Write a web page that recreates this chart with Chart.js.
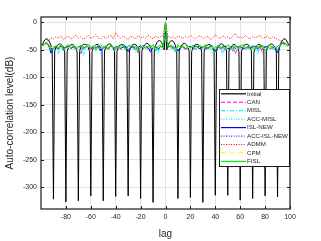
<!DOCTYPE html>
<html>
<head>
<meta charset="utf-8">
<script src="https://cdn.jsdelivr.net/npm/chart.js@4/dist/chart.umd.min.js"></script>
<style>
  body { margin: 0; background: #fff; }
  canvas { display: block; }
</style>
</head>
<body>
<canvas id="acfChart" width="321" height="241"></canvas>
<script>
const FONT = "'Liberation Sans', Arial, sans-serif";

const xTicks = [-80, -60, -40, -20, 0, 20, 40, 60, 80, 100];
const yTicks = [-300, -250, -200, -150, -100, -50, 0];

// lags -99..99 for the initial sequence
const lagsFine = [];
for (let k = -99; k <= 99; k++) lagsFine.push(k);
// lags -98..98 (step 2) for the optimised sequences
const lagsStep2 = [];
for (let k = -98; k <= 98; k += 2) lagsStep2.push(k);

const initialDb = [
  -42, -36, -32, -30, -30, -32, -36, -42, -52,
  -322, -52, -45, -42, -40, -39, -40, -42, -45, -53,
  -327, -53, -46, -42, -41, -40, -41, -43, -46, -54,
  -325, -52, -45, -42, -40, -40, -40, -42, -46, -53,
  -316, -53, -46, -43, -41, -40, -41, -43, -46, -52,
  -325, -52, -45, -42, -40, -39, -40, -42, -45, -53,
  -317, -53, -46, -42, -41, -40, -41, -42, -46, -52,
  -316, -52, -45, -42, -40, -40, -40, -43, -46, -53,
  -321, -52, -45, -41, -39, -38, -39, -41, -45, -52,
  -328, -50, -42, -37, -34, -33, -34, -37, -42, -50,
  0,
  -50, -42, -37, -34, -33, -34, -37, -42, -50, -321,
  -52, -45, -41, -39, -38, -39, -41, -45, -52, -319,
  -53, -46, -43, -40, -40, -40, -42, -45, -52, -328,
  -52, -46, -42, -41, -40, -41, -42, -46, -53, -315,
  -53, -45, -42, -40, -39, -40, -42, -45, -52, -315,
  -52, -46, -43, -41, -40, -41, -43, -46, -53, -324,
  -53, -46, -42, -40, -40, -40, -42, -45, -52, -321,
  -54, -46, -43, -41, -40, -41, -42, -46, -53, -316,
  -53, -45, -42, -40, -39, -40, -42, -45, -52, -318,
  -52, -42, -36, -32, -30, -30, -32, -36, -42
];

const canDb = [
  -42, -38, -41, -48, -45, -43, -47, -44, -50, -46,
  -44, -48, -43, -47, -45, -58, -44, -46, -43, -49,
  -45, -47, -44, -50, -43, -46, -48, -44, -47, -45,
  -43, -49, -46, -44, -48, -45, -43, -47, -55, -44,
  -46, -43, -48, -45, -47, -44, -49, -45, -43, 0,
  -44, -46, -43, -48, -45, -47, -44, -50, -46, -43,
  -48, -45, -44, -47, -43, -49, -46, -44, -48, -45,
  -47, -43, -50, -45, -44, -48, -46, -57, -45, -47,
  -44, -49, -46, -43, -48, -45, -47, -44, -56, -46,
  -44, -48, -45, -47, -43, -40, -38, -40, -43
];

const mislDb = [
  -42, -39, -43, -52, -46, -44, -58, -42, -48, -45,
  -43, -47, -44, -49, -46, -42, -60, -45, -43, -48,
  -44, -47, -42, -57, -46, -43, -48, -45, -44, -50,
  -43, -47, -45, -49, -42, -46, -44, -55, -47, -43,
  -46, -44, -49, -42, -47, -45, -58, -43, -46, 0,
  -45, -43, -48, -55, -44, -46, -43, -49, -45, -47,
  -43, -50, -46, -44, -48, -42, -47, -45, -56, -44,
  -46, -43, -60, -45, -47, -44, -49, -43, -46, -48,
  -44, -47, -45, -50, -43, -46, -58, -44, -47, -45,
  -43, -49, -46, -52, -44, -41, -39, -40, -43
];

const accMislDb = [
  -41, -38, -42, -50, -47, -45, -53, -43, -47, -46,
  -44, -48, -45, -47, -43, -46, -52, -44, -45, -47,
  -43, -49, -46, -51, -44, -42, -47, -46, -43, -49,
  -45, -46, -44, -48, -43, -47, -45, -52, -44, -46,
  -45, -47, -48, -43, -46, -44, -51, -45, -47, 0,
  -44, -46, -47, -52, -43, -45, -44, -48, -46, -45,
  -44, -49, -45, -43, -47, -44, -48, -46, -51, -43,
  -45, -44, -54, -46, -45, -43, -48, -44, -47, -46,
  -43, -48, -46, -49, -44, -45, -53, -45, -46, -44,
  -44, -48, -45, -50, -43, -40, -38, -41, -42
];

const islNewDb = [
  -41, -37, -40, -56, -46, -44, -48, -43, -47, -45,
  -43, -47, -44, -48, -45, -43, -47, -44, -46, -48,
  -44, -46, -43, -52, -45, -44, -47, -43, -48, -45,
  -44, -47, -45, -43, -53, -46, -44, -48, -45, -43,
  -47, -44, -46, -54, -45, -43, -48, -44, -46, 0,
  -45, -43, -47, -44, -52, -46, -43, -48, -45, -44,
  -47, -43, -46, -48, -44, -45, -47, -43, -46, -53,
  -44, -47, -45, -43, -48, -46, -44, -47, -45, -43,
  -48, -46, -44, -47, -45, -43, -48, -44, -46, -45,
  -43, -47, -44, -48, -55, -41, -37, -39, -42
];

const accIslNewDb = [
  -42, -38, -41, -52, -47, -45, -47, -44, -46, -45,
  -44, -46, -45, -47, -44, -45, -48, -43, -46, -47,
  -45, -46, -44, -50, -46, -44, -46, -45, -47, -44,
  -45, -46, -44, -45, -50, -45, -46, -47, -44, -45,
  -46, -45, -47, -50, -44, -45, -47, -45, -46, 0,
  -44, -45, -46, -45, -50, -45, -44, -47, -46, -45,
  -46, -44, -45, -47, -45, -46, -46, -44, -45, -51,
  -45, -46, -44, -45, -47, -45, -46, -46, -44, -45,
  -47, -45, -46, -46, -44, -45, -47, -45, -46, -44,
  -45, -46, -45, -47, -51, -42, -38, -40, -42
];

const admmDb = [
  -40, -36, -32, -28, -30, -26, -29, -24, -31, -27,
  -25, -30, -28, -23, -29, -26, -31, -27, -24, -29,
  -27, -22, -28, -30, -25, -29, -26, -23, -30, -18,
  -26, -29, -24, -28, -31, -25, -27, -30, -24, -28,
  -26, -29, -23, -27, -30, -25, -28, -26, -24, 0,
  -25, -28, -26, -30, -24, -27, -29, -25, -28, -23,
  -27, -30, -26, -24, -29, -27, -25, -31, -28, -22,
  -27, -29, -24, -28, -26, -30, -25, -20, -28, -26,
  -29, -24, -27, -30, -25, -28, -26, -23, -29, -27,
  -25, -30, -26, -28, -31, -33, -35, -38, -42
];

const cpmDb = [
  -41, -39, -42, -46, -45, -44, -46, -45, -47, -44,
  -45, -46, -44, -47, -45, -46, -45, -44, -46, -47,
  -45, -44, -46, -48, -45, -44, -46, -45, -47, -45,
  -44, -46, -45, -44, -47, -45, -46, -47, -44, -45,
  -46, -44, -47, -46, -45, -44, -47, -45, -46, 0,
  -45, -46, -44, -47, -46, -45, -44, -46, -45, -47,
  -44, -46, -45, -46, -44, -45, -47, -45, -46, -48,
  -45, -44, -47, -45, -46, -44, -46, -45, -47, -44,
  -46, -45, -44, -46, -47, -45, -44, -46, -45, -47,
  -44, -46, -45, -47, -46, -42, -39, -40, -42
];

const fislDb = [
  -40, -37, -41, -50, -48, -42, -46, -40, -52, -44,
  -40, -47, -42, -50, -45, -41, -49, -43, -39, -46,
  -42, -51, -44, -40, -47, -43, -50, -41, -45, -48,
  -42, -46, -40, -50, -44, -41, -47, -43, -52, -45,
  -41, -48, -43, -46, -40, -52, -44, -41, -47, 0,
  -46, -41, -44, -53, -40, -45, -42, -49, -43, -47,
  -41, -50, -44, -42, -46, -40, -49, -45, -43, -51,
  -41, -46, -44, -48, -40, -45, -52, -42, -47, -43,
  -40, -49, -44, -46, -41, -50, -43, -47, -41, -52,
  -45, -42, -48, -44, -50, -41, -38, -37, -41
];

function pts(lags, vals) {
  return lags.map((k, i) => ({ x: k, y: vals[i] }));
}

function series(label, lags, vals, color, dash, order) {
  return {
    label: label,
    data: pts(lags, vals),
    borderColor: color,
    borderDash: dash,
    borderWidth: 1,
    pointRadius: 0,
    fill: false,
    tension: 0,
    order: order,
  };
}

const datasets = [
  series("Initial", lagsFine, initialDb, "#000000", [], 9),
  series("CAN", lagsStep2, canDb, "#ff00ff", [4, 2], 8),
  series("MISL", lagsStep2, mislDb, "#00ffff", [4, 2, 1, 2], 7),
  series("ACC-MISL", lagsStep2, accMislDb, "#00e5ee", [1, 1.5], 6),
  series("ISL-NEW", lagsStep2, islNewDb, "#0000ff", [], 5),
  series("ACC-ISL-NEW", lagsStep2, accIslNewDb, "#3333ff", [1, 1.5], 4),
  series("ADMM", lagsStep2, admmDb, "#ff0000", [1, 1.5], 3),
  series("CPM", lagsStep2, cpmDb, "#ffff00", [4, 2, 1, 2], 2),
  series("FISL", lagsStep2, fislDb, "#00ee00", [], 1),
];

// box, inward ticks and the legend inside the plot, like the MATLAB figure
const framePlugin = {
  id: "frame",
  afterDraw(chart) {
    const { ctx, chartArea: a, scales } = chart;
    ctx.save();
    ctx.strokeStyle = "#1a1a1a";
    ctx.lineWidth = 1;
    ctx.beginPath();
    xTicks.forEach((v) => {
      const px = Math.round(scales.x.getPixelForValue(v)) + 0.5;
      ctx.moveTo(px, a.bottom); ctx.lineTo(px, a.bottom - 3);
      ctx.moveTo(px, a.top); ctx.lineTo(px, a.top + 3);
    });
    yTicks.forEach((v) => {
      const py = Math.round(scales.y.getPixelForValue(v)) + 0.5;
      ctx.moveTo(a.left, py); ctx.lineTo(a.left + 3, py);
      ctx.moveTo(a.right, py); ctx.lineTo(a.right - 3, py);
    });
    ctx.stroke();
    ctx.lineWidth = 1.2;
    ctx.strokeRect(a.left, a.top, a.right - a.left, a.bottom - a.top);

    // legend
    const rowH = 8.45;
    const boxW = 71;
    const boxH = 77;
    const bx = a.right - boxW;
    const by = a.top + 72;
    ctx.fillStyle = "#fff";
    ctx.fillRect(bx, by, boxW, boxH);
    ctx.lineWidth = 1;
    ctx.strokeRect(bx + 0.5, by + 0.5, boxW - 1, boxH);
    ctx.font = "6.2px " + FONT;
    ctx.textBaseline = "middle";
    chart.data.datasets.forEach((ds, i) => {
      const cy = by + 4.8 + i * rowH;
      ctx.strokeStyle = ds.borderColor;
      ctx.setLineDash(ds.borderDash);
      ctx.lineWidth = 1.2;
      ctx.beginPath();
      ctx.moveTo(bx + 2, cy);
      ctx.lineTo(bx + 27, cy);
      ctx.stroke();
      ctx.setLineDash([]);
      ctx.fillStyle = "#262626";
      ctx.fillText(ds.label, bx + 28, cy);
    });
    ctx.restore();
  },
};

new Chart(document.getElementById("acfChart"), {
  type: "line",
  data: { datasets: datasets },
  options: {
    responsive: false,
    animation: false,
    devicePixelRatio: 1,
    layout: { padding: { left: 0, top: 17, right: 31, bottom: 0 } },
    plugins: { legend: { display: false }, tooltip: { enabled: false } },
    scales: {
      x: {
        type: "linear",
        min: -100,
        max: 100,
        afterBuildTicks: (s) => { s.ticks = xTicks.map((v) => ({ value: v })); },
        afterFit: (s) => { s.height = 32; },
        grid: { color: "#e3e3e3", drawTicks: false },
        border: { display: false },
        ticks: { font: { size: 7, family: FONT }, color: "#262626", padding: 4, maxRotation: 0 },
        title: {
          display: true,
          text: "lag",
          font: { size: 10, family: FONT },
          color: "#262626",
          padding: { top: 0, bottom: 1 },
        },
      },
      y: {
        type: "linear",
        min: -340,
        max: 10,
        afterBuildTicks: (s) => { s.ticks = yTicks.map((v) => ({ value: v })); },
        afterFit: (s) => { s.width = 41; },
        grid: { color: "#e3e3e3", drawTicks: false },
        border: { display: false },
        ticks: { font: { size: 7, family: FONT }, color: "#262626", padding: 4 },
        title: {
          display: true,
          text: "Auto-correlation level(dB)",
          font: { size: 10, family: FONT },
          color: "#262626",
          padding: { top: 4, bottom: 0 },
        },
      },
    },
  },
  plugins: [framePlugin],
});
</script>
</body>
</html>
